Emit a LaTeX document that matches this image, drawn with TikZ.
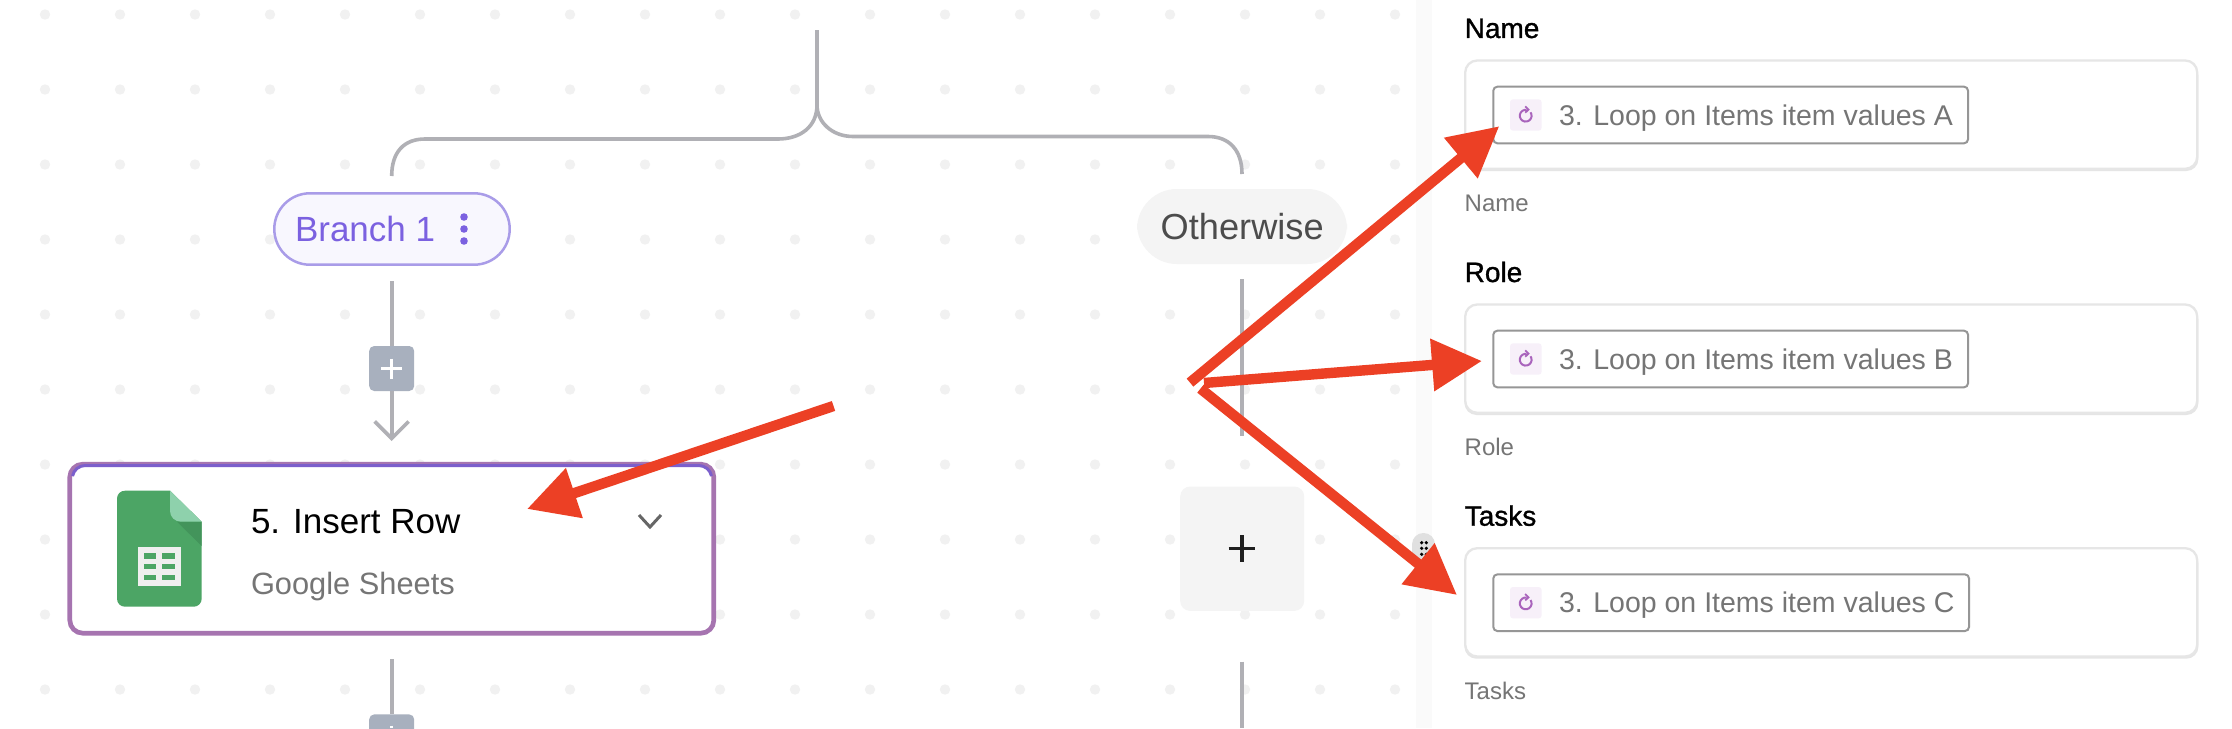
\documentclass[tikz,border=0pt]{standalone}
\usepackage{fontspec}
\setmainfont{Liberation Sans}
\newfontfamily\titlefont[FakeBold=1.1]{Liberation Sans}
\usetikzlibrary{arrows.meta}
\definecolor{dotc}{HTML}{F1F1F1}
\definecolor{stripc}{HTML}{FAFAFA}
\definecolor{connc}{HTML}{B0B0B5}
\definecolor{redc}{HTML}{EC4025}
\definecolor{violet}{HTML}{7B61E0}
\definecolor{pillb}{HTML}{A99CE8}
\definecolor{pillf}{HTML}{F8F7FE}
\definecolor{btn}{HTML}{A8B0BE}
\definecolor{cardb}{HTML}{A674B0}
\definecolor{cardt}{HTML}{7B5FCC}
\definecolor{soft}{HTML}{F4F4F4}
\definecolor{muted}{HTML}{757575}
\definecolor{sheet}{HTML}{4CA565}
\definecolor{sheetl}{HTML}{8ED1AC}
\definecolor{sheetd}{HTML}{43945B}
\definecolor{tablec}{HTML}{EFEFEF}
\definecolor{boxb}{HTML}{E6E6E6}
\definecolor{chipb}{HTML}{969696}
\definecolor{chipf}{HTML}{F7F0F9}
\definecolor{loopc}{HTML}{A964BC}
\definecolor{handlec}{HTML}{E0E0E0}
\tikzset{
  conn/.style={draw=connc,line width=1.8pt},
  pointer/.style={draw=redc,line width=5.2pt,-{Triangle[length=25pt,width=25pt,fill=redc]}},
  lbl/.style={anchor=base west,inner sep=0pt,outer sep=0pt},
  pillv/.style={rectangle,draw=pillb,line width=1.25pt,fill=pillf,rounded corners=17.8pt,minimum width=117.7pt,minimum height=35.7pt,inner sep=0pt},
  pillo/.style={rectangle,fill=soft,rounded corners=20pt,minimum width=105pt,minimum height=37.5pt,inner sep=0pt},
  addsmall/.style={rectangle,fill=btn,rounded corners=2.5pt,minimum width=22.5pt,minimum height=22.5pt,inner sep=0pt},
  addbig/.style={rectangle,fill=soft,rounded corners=5pt,minimum width=62pt,minimum height=62.2pt,inner sep=0pt},
  cardbox/.style={rectangle,draw=cardb,line width=2.35pt,fill=white,rounded corners=6.5pt,minimum width=322pt,minimum height=84.5pt,inner sep=0pt},
  fieldbox/.style={rectangle,draw=boxb,line width=1.15pt,fill=white,rounded corners=6pt,minimum width=366pt,minimum height=54.15pt,inner sep=0pt},
  chip/.style={rectangle,draw=chipb,line width=1pt,fill=white,rounded corners=2pt,minimum height=28.3pt,inner sep=0pt},
  chipicon/.style={rectangle,fill=chipf,rounded corners=1.5pt,minimum width=15.8pt,minimum height=15.7pt,inner sep=0pt},
}
\begin{document}
\begin{tikzpicture}[x=0.5pt,y=-0.5pt]
\useasboundingbox (0,0) rectangle (2232,728);
\fill[white] (0,0) rectangle (2232,728);
% dotted canvas
\foreach \i in {0,...,18}{\foreach \j in {0,...,9}{
  \fill[dotc] ({45+75*\i},{14.5+75*\j}) circle[radius=2.6pt];
}}
\fill[stripc] (1416,0) rectangle (1432,728);
% free ends of connectors
\coordinate (trunk) at (817,30);
\coordinate (fork) at (817,105);
\coordinate (leftend) at (391.7,176);
\coordinate (rightend) at (1242,174);
\coordinate (b1out) at (391.7,281);
\coordinate (b1tip) at (391.7,441);
\coordinate (cardout) at (391.7,659);
\coordinate (oout) at (1242,279);
\coordinate (oend) at (1242,436);
\coordinate (addout) at (1242,661.5);
\coordinate (obottom) at (1242,728);
% connectors
\draw[conn] (trunk) -- (fork) .. controls (817,127) and (800,139) .. (778,139) -- (425,139) .. controls (404,139) and (391.7,152) .. (leftend);
\draw[conn] (fork) .. controls (817,122) and (832,136.5) .. (853,136.5) -- (1208,136.5) .. controls (1229,136.5) and (1242,150) .. (rightend);
% nodes
\node[pillv] (branch) at (392,229) {};
\node[addsmall] (add1) at (391.7,368.5) {};
\draw[conn] (b1out) -- (add1);
\draw[conn,-{Straight Barb[length=8.5pt,width=17pt,line width=1.8pt]}] (add1) -- (b1tip);
\draw[white,line width=1.7pt] (381,368.5) -- (402.4,368.5) (391.7,358.5) -- (391.7,379);
\node[cardbox] (card) at (391.8,548.7) {};
\draw[cardt,line width=1.5pt] (72.5,476) .. controls (74,470) and (78,465.6) .. (86,465.6) -- (698,465.6) .. controls (706,465.6) and (710,470) .. (711.5,476);
\node[addsmall,anchor=north] (add2) at (391.7,714) {};
\draw[conn] (cardout) -- (add2);
\draw[white,line width=1.7pt] (391.7,725.6) -- (391.7,728);
\node[pillo] (otherwise) at (1242,226.5) {};
\node[addbig] (addo) at (1242.2,548.7) {};
\draw[conn] (oout) -- (oend);
\draw[conn] (addout) -- (obottom);
\draw[black!88,line width=1.55pt] (1228.6,548.7) -- (1255.4,548.7) (1242,535.2) -- (1242,562.2);
% texts of flow
\node[lbl,text=violet,font=\fontsize{17.5}{21}\selectfont] (t1) at (295,241) {Branch 1};
\foreach \yy in {217,229,241} \fill[violet] (464,\yy) circle[radius=1.9pt];
\node[lbl,text=black!70,font=\fontsize{18.1}{21}\selectfont] (t2) at (1160.7,239) {Otherwise};
\node[lbl,text=black,font=\fontsize{17.5}{21}\selectfont] (t3) at (251,533.5) {5. Insert Row};
\node[lbl,text=muted,font=\fontsize{15.4}{19}\selectfont] (t4) at (251,594.5) {Google Sheets};
\draw[black!60,line width=1.5pt] (639,515) -- (650,527) -- (661,515);
% sheets icon
\fill[sheet] (170,490.7) -- (125,490.7) .. controls (120.5,490.7) and (117,494.2) .. (117,498.7) -- (117,598.7) .. controls (117,603.2) and (120.5,606.7) .. (125,606.7) -- (193.7,606.7) .. controls (198.2,606.7) and (201.7,603.2) .. (201.7,598.7) -- (201.7,521.7) -- cycle;
\fill[sheetd] (177,521.7) -- (201.7,521.7) -- (201.7,546) -- cycle;
\fill[sheetl] (170,490.7) -- (201.7,521.7) -- (181,521.7) .. controls (175,521.7) and (170,517) .. (170,511) -- cycle;
\fill[tablec] (138.3,547.3) rectangle (180.7,586);
\foreach \ya/\yb in {553.3/558.7,564/569.3,574.7/580}{
  \fill[sheet] (144,\ya) rectangle (156,\yb);
  \fill[sheet] (162,\ya) rectangle (175.3,\yb);
}
% right panel
\foreach \dy/\ttl/\val/\id/\cw in {0/Name/A/a/237.35,244/Role/B/b/237.35,487.7/Tasks/C/c/237.85}{
  \node[lbl,text=black,font=\titlefont\fontsize{14}{17}\selectfont] (title\id) at (1464.7,{38+\dy}) {\ttl};
  \fill[black!10,rounded corners=6pt] (1464.5,{64+\dy}) rectangle (2198.4,{171+\dy});
  \node[fieldbox] (field\id) at (1831.2,{114.65+\dy}) {};
  \node[chip,minimum width=\cw pt,anchor=west] (chip\id) at (1492.3,{115+\dy}) {};
  \node[chipicon] (icon\id) at (1525.8,{115+\dy}) {};
  \draw[loopc,line width=1pt] ({1525.7+5.9*cos(80)},{115.7+\dy-5.9*sin(80)}) arc[start angle=-80,end angle=-395,radius=5.9];
  \draw[loopc,line width=0.9pt] (1525.2,{106.3+\dy}) -- (1528.5,{109.6+\dy}) -- (1525.2,{112.7+\dy});
  \node[lbl,text=muted,font=\fontsize{14.25}{17}\selectfont] (val\id) at (1559,{125+\dy}) {3. Loop on Items item values \val};
  \node[lbl,text=muted,font=\fontsize{12}{14}\selectfont] (sub\id) at (1464.7,{211.7+\dy}) {\ttl};
}
% drag handle
\fill[handlec,rounded corners=5.7pt] (1412,533) rectangle (1435,563);
\foreach \xx in {1421.7,1426.3}{\foreach \yy in {542.7,548.3,554.3}{\fill[black] (\xx,\yy) circle[radius=0.9pt];}}
% red pointers
\coordinate (p1s) at (833.5,406);
\coordinate (p1e) at (527,509);
\coordinate (p2s) at (1190,382.6);
\coordinate (p2e) at (1499.3,126.2);
\coordinate (p3s) at (1204,383);
\coordinate (p3e) at (1482,361);
\coordinate (p4s) at (1200.5,388.6);
\coordinate (p4e) at (1457,595);
\draw[pointer] (p1s) -- (p1e);
\draw[pointer] (p2s) -- (p2e);
\draw[pointer] (p3s) -- (p3e);
\draw[pointer] (p4s) -- (p4e);
\end{tikzpicture}
\end{document}
